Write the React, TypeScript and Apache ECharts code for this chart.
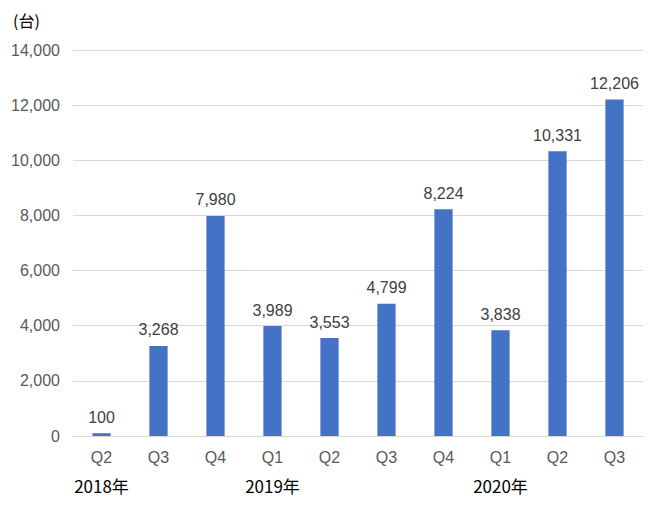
import React, { useEffect, useRef } from "react";
import * as echarts from "echarts";

const quarters = ["Q2", "Q3", "Q4", "Q1", "Q2", "Q3", "Q4", "Q1", "Q2", "Q3"];
const yearLabels = ["2018年", "", "", "2019年", "", "", "", "2020年", "", ""];
const units = [100, 3268, 7980, 3989, 3553, 4799, 8224, 3838, 10331, 12206];
const unitLabel = "(台)";

export default function App() {
  const ref = useRef<HTMLDivElement>(null);
  useEffect(() => {
    const chart = echarts.init(ref.current!, null, { renderer: "svg" });
    const font = "Arial, 'Liberation Sans', sans-serif";
    chart.setOption({
      animation: false,
      backgroundColor: "#ffffff",
      grid: { left: 65, right: 7, top: 42, bottom: 73 },
      graphic: [
        {
          type: "text",
          left: 5,
          top: 4,
          style: { text: unitLabel, fill: "#000", font: "16px 'Noto Sans CJK JP', sans-serif" },
        },
      ],
      xAxis: [
        {
          type: "category",
          data: quarters,
          axisLine: { lineStyle: { color: "#d9d9d9", width: 1 } },
          axisTick: { show: false },
          axisLabel: { color: "#595959", fontSize: 16, fontFamily: font, margin: 13 },
        },
        {
          type: "category",
          data: quarters.map((_, i) => yearLabels[i]),
          position: "bottom",
          offset: 33,
          axisLine: { show: false },
          axisTick: { show: false },
          axisLabel: {
            color: "#000",
            fontSize: 17,
            fontFamily: "'Noto Sans CJK JP', sans-serif",
            interval: 0,
          },
        },
      ],
      yAxis: {
        type: "value",
        min: 0,
        max: 14000,
        interval: 2000,
        axisLine: { show: false },
        axisTick: { show: false },
        splitLine: { lineStyle: { color: "#d9d9d9", width: 1 } },
        axisLabel: {
          color: "#595959",
          fontSize: 16,
          fontFamily: font,
          margin: 13,
          formatter: (v: number) => v.toLocaleString("en-US"),
        },
      },
      series: [
        {
          type: "bar",
          data: units,
          barWidth: "32%",
          itemStyle: { color: "#4472c4" },
          label: {
            show: true,
            position: "top",
            distance: 8,
            color: "#404040",
            fontSize: 16,
            fontFamily: font,
            formatter: (p: any) => (p.value as number).toLocaleString("en-US"),
          },
        },
      ],
    });
    return () => chart.dispose();
  }, []);
  return <div ref={ref} style={{ width: 642, height: 501 }} />;
}
